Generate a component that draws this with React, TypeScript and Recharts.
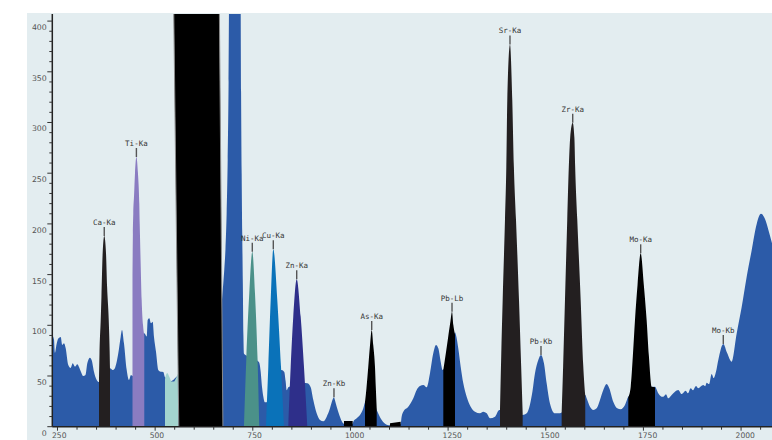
import React from 'react';
import { ComposedChart, Area, XAxis, YAxis, ReferenceDot } from 'recharts';

// ---------- data ----------
const bgChannels = [
  237, 241, 243.5, 247, 252, 258.2, 262.3, 266.6, 271, 277.6, 283.8, 288.9, 294.8, 300.7, 307.6, 316, 321.7, 326.3,
  333.2, 337.6, 343.4, 350.4, 356.2, 370, 384.4, 391.3, 397.2, 405.6, 411.8, 415.1, 420.2, 427.2, 433, 438.2, 442,
  457, 472.2, 478.4, 480.9, 485, 489.4, 493.7, 497, 502.2, 508, 514.2, 520.8, 525.2, 540, 557, 600, 660, 670,
  674.5, 677, 680, 683, 685.7, 688, 689.5, 718.5, 720, 721.5, 723, 724.5, 726, 727.5, 735, 745, 755, 762, 766.6,
  770, 774, 777, 781, 785, 792, 800, 810, 818, 824, 830.6, 834, 836.7, 841, 850, 865, 880, 889.5, 898.2, 904.9,
  913.5, 922, 930.5, 939.2, 947.6, 952, 957.8, 961, 964.8, 971.4, 980, 983.4, 1005.7, 1007.2, 1016, 1024.4, 1032.9,
  1037.2, 1054, 1067.2, 1080, 1092.8, 1101, 1128.6, 1131, 1135.3, 1148, 1160.9, 1169.5, 1178, 1186.5, 1195, 1203.6,
  1212, 1219, 1224.9, 1231, 1236.1, 1250, 1262, 1268, 1270.2, 1276, 1282.2, 1288.9, 1297.5, 1307.8, 1318.8, 1331.6,
  1340, 1348.8, 1357.2, 1370, 1381, 1410, 1440.9, 1451.2, 1459.6, 1466, 1472.4, 1480.9, 1487.8, 1495.4, 1502.3,
  1510.8, 1523.6, 1536.4, 1540.7, 1570, 1601.1, 1604.7, 1613.2, 1621.7, 1630.3, 1638.8, 1647.3, 1656, 1662.6,
  1672.8, 1683, 1691.8, 1702.8, 1711.3, 1745, 1779.6, 1788, 1796.7, 1801, 1807.7, 1813.6, 1822.3, 1830.8, 1839.3,
  1847.9, 1858.2, 1864, 1871, 1877, 1884.6, 1890, 1903.3, 1908, 1912, 1918, 1924.7, 1930, 1935.8, 1941.7, 1954.5,
  1964.7, 1975.9, 1988.8, 2001.6, 2014.4, 2027.2, 2040, 2051, 2061, 2070, 2079.2,
];
const bgCounts = [
  90, 86, 73, 80, 87, 88.5, 80.6, 82.2, 77.3, 60.8, 58, 62.5, 59.2, 61.5, 56.5, 50, 51, 62.5,
  68, 65.5, 54.2, 46, 44, 48, 57.6, 55.9, 58, 72.4, 88.8, 95.4, 82.2, 55.9, 46, 51, 50,
  70, 92.1, 89, 105.2, 106.9, 102, 103.6, 88.8, 74, 55.9, 54.2, 54, 49, 45, 50, 60, 90, 120,
  142, 155, 175, 210, 263, 340, 430, 430, 330, 250, 190, 141, 90, 72, 70, 68, 66, 65, 63,
  55, 38, 29.6, 24, 24, 28, 35, 48, 55, 56, 54, 45, 36, 39, 40, 42, 43, 42.8, 38.8, 26.3,
  13.2, 6.6, 5.3, 9.9, 18.1, 24, 29, 25, 19.7, 11.5, 4, 3, 3, 5, 8.3, 11.5, 18.1,
  24, 30, 16.5, 6.6, 2, 1.5, 3, 9.9, 14.8, 19.7, 28, 36.2, 40.1, 41.1, 38.9, 52.7,
  72.4, 80.6, 77.3, 64.1, 55.9, 70, 88, 93, 90.4, 77.3, 59.2, 42.8, 29.6, 19.7, 14.8, 13.2,
  14.8, 13.2, 8.3, 9.9, 16.5, 15, 11.5, 13.2, 22, 35, 52.7, 65.8, 70.7, 62.5, 42.8,
  23, 13.2, 13.2, 14, 20, 31.3, 28, 19.7, 16.5, 18.1, 26.3, 36.2, 42.1, 37.9,
  24.7, 18.1, 17.2, 21.4, 29.6, 38, 39.4, 32.9, 29.6, 29.6, 32, 28, 31.3, 34.5, 36.2,
  32.2, 35.5, 33, 38, 36, 40.1, 38, 41.1, 40, 43.4, 42, 52, 48, 54.2, 65.8, 81.6,
  72.4, 64.1, 92, 118, 148, 174, 200, 210, 205, 194, 181,
];

// region-of-interest peaks: [channel, counts]
const caKa = [[356.2, 44], [357.5, 72], [360.6, 105], [362.5, 128], [365.6, 171], [369.7, 188], [374.2, 171], [377, 138], [381.2, 105], [383.5, 75], [384.4, 57]];
const tiKa = [[442, 150], [443, 190], [444, 210], [446, 228], [448.4, 250], [452, 266], [456, 250], [459.4, 220], [460.5, 200], [463, 160], [465.5, 125], [469, 100], [472.2, 90]];
const scatterRoi = [[525.2, 47], [527, 50], [531, 53], [536, 49.5], [542.4, 44.5], [548.2, 44.5], [553.4, 47.7], [559.2, 53]];
const mainRoi = [[560.5, 0], [547, 430], [664, 430], [673.5, 0]];
const niKa = [[727.4, 0], [733.3, 66], [741, 131.5], [748.7, 172.6], [755.6, 131.5], [762.3, 66], [766.6, 0]];
const cuKa = [[783.6, 0], [789.7, 59], [795.8, 125], [802.5, 175], [812.7, 125], [822.2, 59], [829.8, 0]];
const znKa = [[840.9, 0], [847, 59], [853.6, 108.5], [862.4, 145.4], [872.6, 108.5], [881, 59], [889.5, 0]];
const roiBlockA = [[983.4, 5.5], [1005.7, 5.5]];
const asKa = [[1037.2, 24], [1041, 38], [1045.6, 59], [1050, 80], [1054.4, 95.4], [1058.5, 80], [1062.8, 59], [1065, 38], [1067.2, 18]];
const roiBlockB = [[1101.2, 3.5], [1128.6, 5]];
const pbLb = [[1237.7, 56], [1244, 72], [1250, 88], [1256, 104], [1260, 113.4], [1263.5, 100], [1266, 94], [1267.6, 91]];
const srKa = [[1382.8, 16], [1386, 70], [1389.7, 125], [1395.6, 204], [1399, 256], [1401.5, 322], [1408.4, 377], [1414.3, 322], [1418.4, 256], [1423.8, 204], [1431.5, 125], [1437, 60], [1440.9, 13]];
const zrKa = [[1540.7, 14], [1544.5, 60], [1549.2, 125], [1555, 204], [1559, 256], [1562.5, 285], [1569, 299.8], [1573.3, 285], [1575.3, 256], [1580.7, 204], [1589.4, 125], [1596, 60], [1601.1, 31]];
const moKa = [[1711.3, 29], [1717.5, 39.4], [1723, 70], [1728.4, 105], [1735, 140], [1743, 171], [1751, 140], [1758.3, 105], [1764, 70], [1771.2, 39.4], [1779.6, 39]];

// peak labels
const labelNames = ['Ca-Ka', 'Ti-Ka', 'Ni-Ka', 'Cu-Ka', 'Zn-Ka', 'Zn-Kb', 'As-Ka', 'Pb-Lb', 'Sr-Ka', 'Pb-Kb', 'Zr-Ka', 'Mo-Ka', 'Mo-Kb'];
const labelChannels = [369.7, 452, 748.7, 802.5, 862.4, 957.8, 1054.4, 1260, 1408.4, 1487.8, 1569, 1743, 1954.5];
const labelCounts = [188, 266, 172.6, 175, 145.4, 29, 95.4, 113.4, 377, 70.7, 299.8, 171, 81.6];

// axis ticks
const yMajorTicks = [0, 50, 100, 150, 200, 250, 300, 350, 400];
const xMajorTicks = [250, 500, 750, 1000, 1250, 1500, 1750, 2000];
const yTicks = Array.from({ length: 41 }, (_, i) => i * 10);
const xTicks = Array.from({ length: 37 }, (_, i) => 250 + i * 50);

// ---------- styles ----------
const BLUE = '#2c5ba8';
const peakSeries: { data: number[][]; color: string; linear?: boolean; stroke?: string }[] = [
  { data: caKa, color: '#231f20' },
  { data: tiKa, color: '#8a7cc1' },
  { data: scatterRoi, color: '#a3d4cf' },
  { data: mainRoi, color: '#000000', linear: true, stroke: '#8a8a8a' },
  { data: niKa, color: '#4b9189' },
  { data: cuKa, color: '#0a72b9' },
  { data: znKa, color: '#2e2f8a' },
  { data: roiBlockA, color: '#000000', linear: true },
  { data: asKa, color: '#000000' },
  { data: roiBlockB, color: '#000000', linear: true },
  { data: pbLb, color: '#000000' },
  { data: srKa, color: '#231f20' },
  { data: zrKa, color: '#231f20' },
  { data: moKa, color: '#000000' },
];

const toRows = (pairs: number[][]) => pairs.map(([x, y]) => ({ x, y }));
const bgRows = bgChannels.map((x, i) => ({ x, y: bgCounts[i] }));

const YTick = (props: any) => {
  const { x, y, payload } = props;
  const v = payload.value;
  const major = yMajorTicks.includes(v);
  return (
    <g>
      <line x1={x - (major ? 5 : 3)} x2={x} y1={y} y2={y} stroke="#333" strokeWidth={1} />
      {major && (
        <text x={x - 5.5} y={y + 9} textAnchor="end" fontSize={7.8} fontFamily="DejaVu Sans" fill="#555">
          {v}
        </text>
      )}
    </g>
  );
};

const XTick = (props: any) => {
  const { x, y, payload } = props;
  const v = payload.value;
  const major = xMajorTicks.includes(v);
  return (
    <g>
      <line x1={x} x2={x} y1={y} y2={y + (major ? 4 : 3)} stroke="#333" strokeWidth={1} />
      {major && (
        <text x={x - 5.5} y={y + 11.2} textAnchor="start" fontSize={7.6} fontFamily="DejaVu Sans" fill="#555">
          {v}
        </text>
      )}
    </g>
  );
};

const PeakLabel = (props: any) => {
  const { cx, cy, name } = props;
  return (
    <g>
      <line x1={cx} x2={cx} y1={cy} y2={cy - 9} stroke="#555" strokeWidth={1.4} />
      <text x={cx} y={cy - 11} textAnchor="middle" fontSize={7.5} fontFamily="DejaVu Sans Mono" fill="#333">
        {name}
      </text>
    </g>
  );
};

export default function App() {
  return (
    <div style={{ position: 'absolute', left: 0, top: 0, width: 772, height: 440, background: '#ffffff', overflow: 'hidden' }}>
      <div style={{ position: 'absolute', left: 27, top: 13, width: 745, height: 427, background: '#e3edf0' }} />
      <div style={{ position: 'absolute', left: 0, top: 0 }}>
        <ComposedChart width={772} height={440} margin={{ top: 14, right: 0, bottom: 0, left: 0 }}>
          <XAxis
            type="number"
            dataKey="x"
            domain={[236.7, 2079.2]}
            allowDataOverflow
            ticks={xTicks}
            interval={0}
            tick={<XTick />}
            tickLine={false}
            tickSize={0}
            tickMargin={0}
            height={13.3}
            axisLine={{ stroke: '#222', strokeWidth: 1.5 }}
          />
          <YAxis
            type="number"
            domain={[0, 407]}
            allowDataOverflow
            ticks={yTicks}
            interval={0}
            tick={<YTick />}
            tickLine={false}
            tickSize={0}
            tickMargin={0}
            width={52.3}
            axisLine={{ stroke: '#222', strokeWidth: 1.5 }}
          />
          <Area
            data={bgRows}
            dataKey="y"
            type="monotone"
            fill={BLUE}
            fillOpacity={1}
            stroke="none"
            dot={false}
            activeDot={false}
            isAnimationActive={false}
          />
          {peakSeries.map((s, i) => (
            <Area
              key={i}
              data={toRows(s.data)}
              dataKey="y"
              type={s.linear ? 'linear' : 'monotone'}
              fill={s.color}
              fillOpacity={1}
              stroke={s.stroke || 'none'}
              strokeWidth={s.stroke ? 1 : 0}
              dot={false}
              activeDot={false}
              isAnimationActive={false}
            />
          ))}
          {labelNames.map((name, i) => (
            <ReferenceDot
              key={name}
              x={labelChannels[i]}
              y={labelCounts[i]}
              r={0}
              shape={(p: any) => <PeakLabel {...p} name={name} />}
            />
          ))}
        </ComposedChart>
      </div>
    </div>
  );
}
